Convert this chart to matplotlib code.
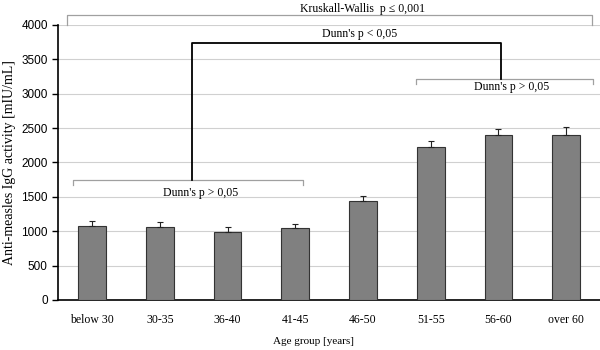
import matplotlib.pyplot as plt

groups = ["below 30", "30-35", "36-40", "41-45", "46-50", "51-55", "56-60", "over 60"]
means = [1070, 1060, 995, 1045, 1440, 2225, 2395, 2405]
errs = [80, 80, 70, 60, 70, 85, 95, 105]

serif = "Liberation Serif"
sans = "Liberation Sans"

fig = plt.figure(figsize=(6, 3.5), dpi=100)
ax = fig.add_axes([0.097, 0.143, 0.903, 0.786])

x = range(len(groups))
ax.bar(x, means, width=0.41, color="#808080", edgecolor="#333333", linewidth=0.8, zorder=3)
ax.errorbar(x, means, yerr=[[0] * len(errs), errs], fmt="none", ecolor="#222222",
            elinewidth=0.8, capsize=2.5, capthick=0.8, zorder=4)

ax.set_xlim(-0.5, 7.5)
ax.set_ylim(0, 4000)
ax.set_yticks(range(0, 4001, 500))
ax.yaxis.grid(True, color="#d0d0d0", linewidth=0.8, zorder=0)
ax.set_axisbelow(True)
for s in ["top", "right"]:
    ax.spines[s].set_visible(False)
ax.spines["left"].set_linewidth(1.2)
ax.spines["bottom"].set_linewidth(1.2)
ax.tick_params(axis="x", length=0, pad=10)
ax.tick_params(axis="y", length=4, width=1, direction="out")
ax.set_xticks(list(x))
ax.set_xticklabels(groups, fontfamily=serif, fontsize=8.5)
for lbl in ax.get_yticklabels():
    lbl.set_fontfamily(sans)
    lbl.set_fontsize(8.5)
ax.set_xlabel("Age group [years]", fontfamily=serif, fontsize=8, labelpad=12)
ax.xaxis.set_label_coords(0.472, -0.135)
ax.set_ylabel("Anti-measles IgG activity [mIU/mL]", fontfamily=serif, fontsize=10, labelpad=6)
ax.yaxis.set_label_coords(-0.077, 0.5)


def bracket(x0, x1, y, drop, color, lw):
    ax.plot([x0, x0, x1, x1], [y - drop, y, y, y - drop], color=color, lw=lw,
            clip_on=False, zorder=5)


# Kruskall-Wallis
bracket(-0.37, 7.38, 4145, 145, "#a0a0a0", 0.9)
ax.text(4.0, 4235, "Kruskall-Wallis  p \u2264 0,001", ha="center", va="center",
        fontfamily=serif, fontsize=8.5)

# left / right Dunn's brackets
bracket(-0.28, 3.12, 1745, 70, "#a0a0a0", 0.9)
ax.text(1.6, 1560, "Dunn's p > 0,05", ha="center", va="center", fontfamily=serif, fontsize=8.5)
bracket(4.79, 7.39, 3215, 70, "#a0a0a0", 0.9)
ax.text(6.2, 3090, "Dunn's p > 0,05", ha="center", va="center", fontfamily=serif, fontsize=8.5)

# Dunn's p < 0,05
ax.plot([1.48, 1.48, 6.04, 6.04], [1745, 3740, 3740, 3215], color="black", lw=1.3, zorder=5)
ax.text(3.95, 3870, "Dunn's p < 0,05", ha="center", va="center", fontfamily=serif, fontsize=8.5)

fig.savefig("out.png", dpi=100)
